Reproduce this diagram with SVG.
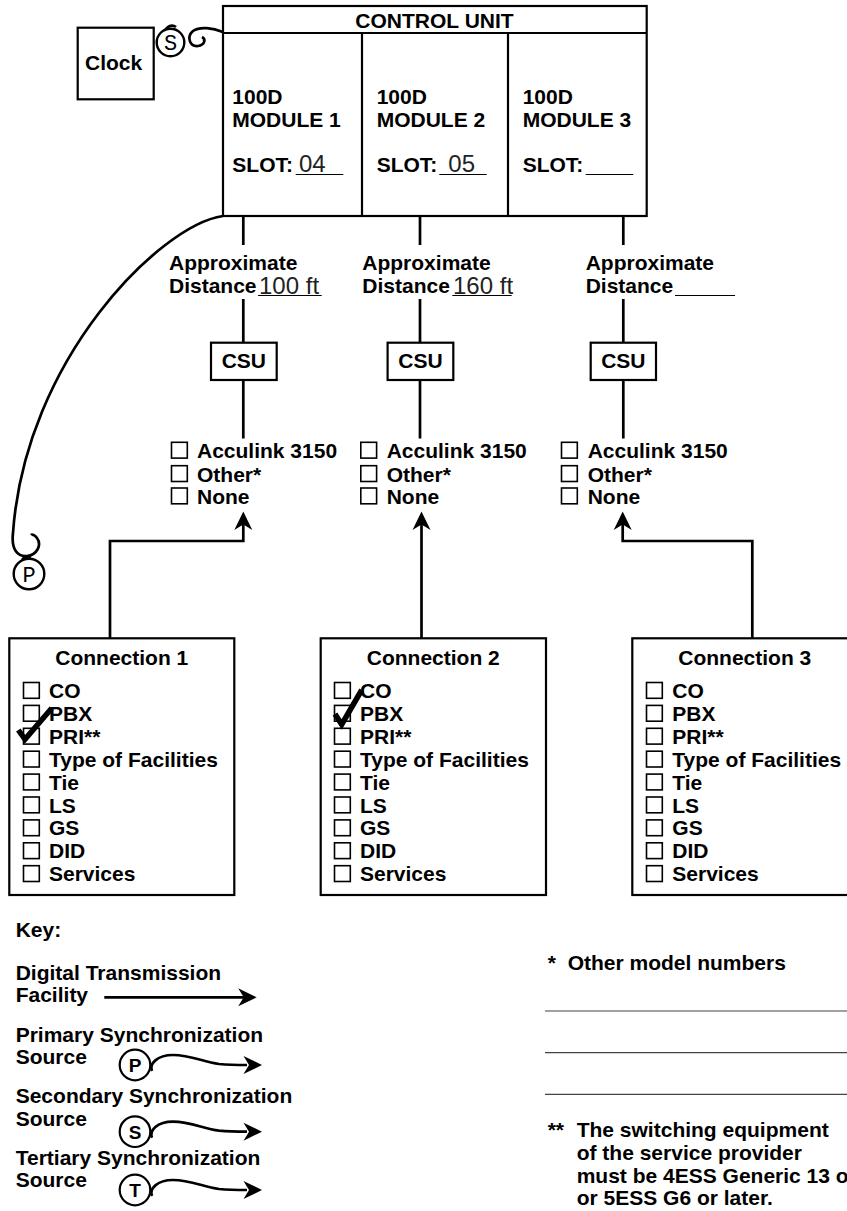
<svg xmlns="http://www.w3.org/2000/svg" width="847" height="1211" viewBox="0 0 847 1211">
<style>
text{font-family:"Liberation Sans",Arial,sans-serif;font-weight:bold;font-size:21px;fill:#000}
.thin{font-weight:300;font-size:24px;fill:#222}
.ser{font-family:"Liberation Mono","Courier New",monospace;font-weight:normal;font-size:22px}
.box{fill:#fff;stroke:#000;stroke-width:2.2}
.cb{fill:none;stroke:#000;stroke-width:1.6}
.ln{fill:none;stroke:#000;stroke-width:2.7}
.ul{stroke:#000;stroke-width:1}
.fl{stroke:#444;stroke-width:1.2}
.chk{fill:none;stroke:#000;stroke-width:5.5;stroke-linejoin:miter}
.ah{fill:#000}
.mid{text-anchor:middle}
</style>
<defs>
<polygon id="ahUp" class="ah" points="0,0 9,18.5 0,13 -9,18.5"/>
<polygon id="ahRight" class="ah" points="0,0 -18.5,-9 -13,0 -18.5,9"/>
<g id="cbSq"><rect class="cb" x="0" y="0" width="15.8" height="15.8"/></g>
<g id="syncTail">
<path class="ln" d="M17,6 C14,-1 22,-10 38,-10 C56,-10 68,-3 84,-1 C95,0 104,0 112,0" stroke-width="2.6"/>
<use href="#ahRight" x="127" y="0"/>
</g>
</defs>

<g id="connectors">
<path class="ln" d="M243.3,216 V245 M243.3,299 V343 M243.3,380 V438.5"/>
<path class="ln" d="M420,216 V245 M420,299 V343 M420,380 V438.5"/>
<path class="ln" d="M623.3,216 V245 M623.3,299 V343 M623.3,380 V438.5"/>
<path class="ln" d="M110,638 V541 H243.3 V524"/>
<use href="#ahUp" x="243.3" y="511.5"/>
<path class="ln" d="M421.5,638 V524"/>
<use href="#ahUp" x="421.5" y="511.5"/>
<path class="ln" d="M752.3,638 V541 H622.7 V524"/>
<use href="#ahUp" x="622.7" y="511.5"/>
<path class="ln" d="M223,32 C213,28 200,26 193,31 C186,37 190,47 198,46 C205,45 206,39 202,37" stroke-width="2.4"/>
<path class="ln" d="M165,31 C167,26 172,24 176,27" stroke-width="2.4"/>
<path class="ln" d="M223,216 C160,225 25,360 13,533 C11,550 18,557 27,556 C37,555 42,545 37,538 C35,535 32,534 31,535" stroke-width="2.4"/>
<path class="ln" d="M22,560 C24,557 27,556 31,557" stroke-width="2.4"/>
</g>

<g id="clock">
<rect class="box" x="77.7" y="27.7" width="76" height="71.6"/>
<text x="85" y="70">Clock</text>
</g>
<g id="sync-s">
<circle cx="170.5" cy="42.5" r="13.8" fill="#fff" stroke="#000" stroke-width="2.4"/>
<text class="ser mid" x="170.5" y="50">S</text>
</g>
<g id="sync-p">
<circle cx="29" cy="574" r="15.3" fill="#fff" stroke="#000" stroke-width="2.4"/>
<text class="ser mid" x="29" y="581.5">P</text>
</g>

<g id="control-unit">
<rect class="box" x="223" y="6" width="423.7" height="210"/>
<line class="box" x1="223" y1="33" x2="646.7" y2="33"/>
<line class="box" x1="362" y1="33" x2="362" y2="216"/>
<line class="box" x1="508" y1="33" x2="508" y2="216"/>
<text class="mid" x="434.5" y="28">CONTROL UNIT</text>
<text x="232.3" y="104">100D</text>
<text x="232.3" y="127">MODULE 1</text>
<text x="232.3" y="172.3">SLOT:</text>
<text class="thin" x="299" y="171.5">04</text>
<line class="ul" x1="295.7" y1="174.5" x2="343.3" y2="174.5"/>
<text x="376.7" y="104">100D</text>
<text x="376.7" y="127">MODULE 2</text>
<text x="376.7" y="172.3">SLOT:</text>
<text class="thin" x="448.3" y="171.5">05</text>
<line class="ul" x1="439.3" y1="174.5" x2="486.7" y2="174.5"/>
<text x="522.7" y="104">100D</text>
<text x="522.7" y="127">MODULE 3</text>
<text x="522.7" y="172.3">SLOT:</text>
<line class="ul" x1="585.7" y1="174.5" x2="633.3" y2="174.5"/>
</g>

<g id="distance-1">
<text x="169" y="270">Approximate</text>
<text x="169" y="292.7">Distance</text>
<text class="thin" x="259" y="293.5">100 ft</text>
<line class="ul" x1="258" y1="295.5" x2="321.7" y2="295.5"/>
</g>
<g id="distance-2">
<text x="362.3" y="270">Approximate</text>
<text x="362.3" y="292.7">Distance</text>
<text class="thin" x="453" y="293.5">160 ft</text>
<line class="ul" x1="452.3" y1="295.5" x2="511.7" y2="295.5"/>
</g>
<g id="distance-3">
<text x="585.7" y="270">Approximate</text>
<text x="585.7" y="292.7">Distance</text>
<line class="ul" x1="675" y1="295.5" x2="735" y2="295.5"/>
</g>

<g id="csu-1"><rect class="box" x="211" y="342.7" width="65.7" height="37.3"/><text class="mid" x="243.8" y="368.3">CSU</text></g>
<g id="csu-2"><rect class="box" x="387.6" y="342.7" width="65.7" height="37.3"/><text class="mid" x="420.5" y="368.3">CSU</text></g>
<g id="csu-3"><rect class="box" x="590.7" y="342.7" width="65.3" height="37.3"/><text class="mid" x="623.3" y="368.3">CSU</text></g>

<g id="csu-options-1">
<use href="#cbSq" x="171.5" y="442.3"/><text x="197" y="458.3">Acculink 3150</text>
<use href="#cbSq" x="171.5" y="465.7"/><text x="197" y="481.7">Other*</text>
<use href="#cbSq" x="171.5" y="488"/><text x="197" y="504">None</text>
</g>
<g id="csu-options-2">
<use href="#cbSq" x="360.8" y="442.3"/><text x="386.7" y="458.3">Acculink 3150</text>
<use href="#cbSq" x="360.8" y="465.7"/><text x="386.7" y="481.7">Other*</text>
<use href="#cbSq" x="360.8" y="488"/><text x="386.7" y="504">None</text>
</g>
<g id="csu-options-3">
<use href="#cbSq" x="561.5" y="442.3"/><text x="587.7" y="458.3">Acculink 3150</text>
<use href="#cbSq" x="561.5" y="465.7"/><text x="587.7" y="481.7">Other*</text>
<use href="#cbSq" x="561.5" y="488"/><text x="587.7" y="504">None</text>
</g>

<g id="connection-1">
<rect class="box" x="9.3" y="638.3" width="225" height="256.7"/>
<text class="mid" x="121.8" y="665">Connection 1</text>
<use href="#cbSq" x="23.5" y="682.5"/><text x="49" y="698">CO</text>
<use href="#cbSq" x="23.5" y="705.4"/><text x="49" y="720.9">PBX</text>
<use href="#cbSq" x="23.5" y="728.3"/><text x="49" y="743.8">PRI**</text>
<use href="#cbSq" x="23.5" y="751.2"/><text x="49" y="766.7">Type of Facilities</text>
<use href="#cbSq" x="23.5" y="774.1"/><text x="49" y="789.6">Tie</text>
<use href="#cbSq" x="23.5" y="797"/><text x="49" y="812.5">LS</text>
<use href="#cbSq" x="23.5" y="819.9"/><text x="49" y="835.4">GS</text>
<use href="#cbSq" x="23.5" y="842.8"/><text x="49" y="858.3">DID</text>
<use href="#cbSq" x="23.5" y="865.7"/><text x="49" y="881.2">Services</text>
<polyline class="chk" points="18.3,730 25,739.3 51.7,708.3"/>
</g>
<g id="connection-2">
<rect class="box" x="320.7" y="638.3" width="225.3" height="256.7"/>
<text class="mid" x="433.3" y="665">Connection 2</text>
<use href="#cbSq" x="334.5" y="682.5"/><text x="360" y="698">CO</text>
<use href="#cbSq" x="334.5" y="705.4"/><text x="360" y="720.9">PBX</text>
<use href="#cbSq" x="334.5" y="728.3"/><text x="360" y="743.8">PRI**</text>
<use href="#cbSq" x="334.5" y="751.2"/><text x="360" y="766.7">Type of Facilities</text>
<use href="#cbSq" x="334.5" y="774.1"/><text x="360" y="789.6">Tie</text>
<use href="#cbSq" x="334.5" y="797"/><text x="360" y="812.5">LS</text>
<use href="#cbSq" x="334.5" y="819.9"/><text x="360" y="835.4">GS</text>
<use href="#cbSq" x="334.5" y="842.8"/><text x="360" y="858.3">DID</text>
<use href="#cbSq" x="334.5" y="865.7"/><text x="360" y="881.2">Services</text>
<polyline class="chk" points="335,714 341.7,724.5 361.7,690"/>
</g>
<g id="connection-3">
<rect class="box" x="632.3" y="638.3" width="225" height="256.7"/>
<text class="mid" x="744.8" y="665">Connection 3</text>
<use href="#cbSq" x="646.5" y="682.5"/><text x="672.3" y="698">CO</text>
<use href="#cbSq" x="646.5" y="705.4"/><text x="672.3" y="720.9">PBX</text>
<use href="#cbSq" x="646.5" y="728.3"/><text x="672.3" y="743.8">PRI**</text>
<use href="#cbSq" x="646.5" y="751.2"/><text x="672.3" y="766.7">Type of Facilities</text>
<use href="#cbSq" x="646.5" y="774.1"/><text x="672.3" y="789.6">Tie</text>
<use href="#cbSq" x="646.5" y="797"/><text x="672.3" y="812.5">LS</text>
<use href="#cbSq" x="646.5" y="819.9"/><text x="672.3" y="835.4">GS</text>
<use href="#cbSq" x="646.5" y="842.8"/><text x="672.3" y="858.3">DID</text>
<use href="#cbSq" x="646.5" y="865.7"/><text x="672.3" y="881.2">Services</text>
</g>

<g id="legend">
<text x="15.7" y="937.3">Key:</text>
<text x="15.7" y="980">Digital Transmission</text>
<text x="15.7" y="1002.3">Facility</text>
<line class="ln" x1="104.3" y1="997.3" x2="246" y2="997.3"/>
<use href="#ahRight" x="256.7" y="997.3"/>
<text x="15.7" y="1041.7">Primary Synchronization</text>
<text x="15.7" y="1064.3">Source</text>
<g transform="translate(135,1065)">
<use href="#syncTail"/>
<circle r="15.3" fill="#fff" stroke="#000" stroke-width="2.2"/>
<text class="mid" x="0" y="7" style="font-size:19px">P</text>
</g>
<text x="15.7" y="1103.3">Secondary Synchronization</text>
<text x="15.7" y="1125.7">Source</text>
<g transform="translate(135,1131.7)">
<use href="#syncTail"/>
<circle r="15.3" fill="#fff" stroke="#000" stroke-width="2.2"/>
<text class="mid" x="0" y="7" style="font-size:19px">S</text>
</g>
<text x="15.7" y="1165">Tertiary Synchronization</text>
<text x="15.7" y="1187.3">Source</text>
<g transform="translate(135,1190)">
<use href="#syncTail"/>
<circle r="15.3" fill="#fff" stroke="#000" stroke-width="2.2"/>
<text class="mid" x="0" y="7" style="font-size:19px">T</text>
</g>
</g>

<g id="footnotes">
<text x="547.7" y="970">*</text>
<text x="567.7" y="970">Other model numbers</text>
<line class="fl" x1="545" y1="1011" x2="847" y2="1011"/>
<line class="fl" x1="545" y1="1052.7" x2="847" y2="1052.7"/>
<line class="fl" x1="545" y1="1094.3" x2="847" y2="1094.3"/>
<text x="547.7" y="1137.3">**</text>
<text x="576.7" y="1137.3">The switching equipment</text>
<text x="576.7" y="1160">of the service provider</text>
<text x="576.7" y="1182.7">must be 4ESS Generic 13 or</text>
<text x="576.7" y="1205">or 5ESS G6 or later.</text>
</g>
</svg>
